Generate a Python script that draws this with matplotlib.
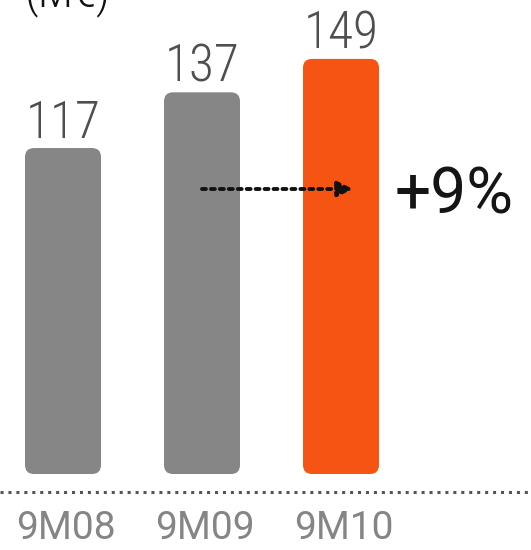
import matplotlib
matplotlib.use("Agg")
import matplotlib.pyplot as plt
from matplotlib.patches import FancyBboxPatch

# Revenue by period (M€)
categories = ["9M08", "9M09", "9M10"]
values = [117, 137, 149]
growth_label = "+9%"
unit_label = "(M€)"

GRAY = "#878686"
ORANGE = "#F55412"
LABEL = "#4f4f4f"
TICK = "#858585"
NUM_FONT = ["Liberation Sans Narrow", "DejaVu Sans Condensed", "Roboto Condensed",
            "Roboto", "DejaVu Sans"]
WIDE_FONT = ["Roboto", "Open Sans", "DejaVu Sans"]

W, H, DPI = 531, 550, 100
fig = plt.figure(figsize=(W / DPI, H / DPI), dpi=DPI)
ax = fig.add_axes([0, 0, 1, 1])
ax.set_axis_off()

# axis scaling: bars spaced 139 px apart, 2.786 px per M€, baseline 76 px above bottom
px_x = 139.0
px_y = 2.786
x0 = 63.0
base = 76.0
ax.set_xlim(-x0 / px_x, (W - x0) / px_x)
ax.set_ylim(-base / px_y, (H - base) / px_y)

xs = list(range(len(categories)))
colors = [GRAY, GRAY, ORANGE]
bars = ax.bar(xs, values, width=76 / px_x, color=colors)

# replace plain rectangles with rounded ones
r_px = 9.0
for rect, c in zip(bars, colors):
    x, y = rect.get_x(), rect.get_y()
    w, h = rect.get_width(), rect.get_height()
    rect.set_visible(False)
    patch = FancyBboxPatch((x, y), w, h,
                           boxstyle=f"round,pad=0,rounding_size={r_px / px_x}",
                           mutation_aspect=px_x / px_y,
                           facecolor=c, edgecolor="none")
    ax.add_patch(patch)

# value labels above bars
for xi, v in zip(xs, values):
    ax.annotate(str(v), (xi, v), xytext=(0, 7.5), textcoords="offset points",
                ha="center", va="baseline", fontsize=37, color=LABEL,
                family=NUM_FONT, fontweight="light")

# category labels under the dotted baseline
for xi, c in zip(xs, categories):
    ax.text(xi + 0.02, -65 / px_y, c, ha="center", va="baseline",
            fontsize=28, color=TICK, family=WIDE_FONT, fontweight="normal")

# dotted baseline
ax.plot([-x0 / px_x, (W - x0) / px_x], [-18 / px_y] * 2, linestyle=(0, (1, 1.6)),
        color="#555555", lw=2.2)

# growth arrow from the 9M09 bar toward the 9M10 bar
y_arrow = (H - 189 - base) / px_y
ax.annotate("", xy=(xs[2] + 12 / px_x, y_arrow), xytext=(xs[1], y_arrow),
            arrowprops=dict(arrowstyle="-|>,head_length=0.9,head_width=0.45",
                            linestyle=(0, (1, 1.3)), lw=2.8, color="#111111",
                            shrinkA=0, shrinkB=0))
ax.text((454 - x0) / px_x, y_arrow, growth_label, ha="center", va="center_baseline",
        fontsize=46, color="#151515", family=WIDE_FONT, fontweight="normal")

# unit label, partly above the top edge
ax.text((25 - x0) / px_x, (H - 6 - base) / px_y, unit_label, ha="left",
        va="baseline", fontsize=34, color="#111111", family=NUM_FONT,
        fontweight="light")

fig.savefig("out.png", dpi=DPI)
